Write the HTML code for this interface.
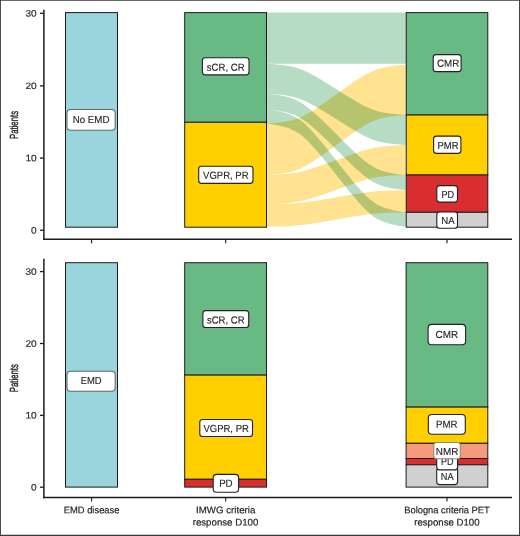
<!DOCTYPE html>
<html lang="en"><head><meta charset="utf-8"><title>Response flow by EMD status</title>
<style>
html,body{margin:0;padding:0;background:#fff;}
body{width:520px;height:536px;overflow:hidden;font-family:"Liberation Sans", Arial, Helvetica, sans-serif;}
svg{display:block;}
text{font-family:"Liberation Sans", Arial, Helvetica, sans-serif;text-rendering:geometricPrecision;stroke:#222;stroke-width:0.1px;}
</style></head>
<body>
<svg width="520" height="536" viewBox="0 0 520 536" font-family='"Liberation Sans", Arial, Helvetica, sans-serif'>
<rect x="0" y="0" width="520" height="536" fill="#fff"/>
<g id="flows" style="isolation:isolate">
<path d="M267.00,123.60 L267.07,123.60 L267.51,123.57 L268.60,123.50 L270.45,123.36 L273.02,123.13 L276.14,122.82 L279.59,122.41 L283.14,121.91 L286.63,121.33 L289.95,120.65 L293.10,119.87 L296.08,118.98 L298.94,117.95 L301.77,116.76 L304.61,115.38 L307.54,113.80 L310.60,112.01 L313.81,110.01 L317.20,107.79 L320.78,105.37 L324.53,102.76 L328.43,100.00 L332.44,97.13 L336.50,94.20 L340.56,91.27 L344.57,88.40 L348.47,85.64 L352.22,83.03 L355.80,80.61 L359.19,78.39 L362.40,76.39 L365.46,74.60 L368.39,73.02 L371.23,71.64 L374.06,70.45 L376.92,69.42 L379.90,68.53 L383.05,67.75 L386.37,67.07 L389.86,66.49 L393.41,65.99 L396.86,65.58 L399.98,65.27 L402.55,65.04 L404.40,64.90 L405.49,64.83 L405.93,64.80 L406.00,64.80 L406.00,115.00 L405.93,115.00 L405.49,115.03 L404.40,115.10 L402.55,115.25 L399.98,115.48 L396.86,115.80 L393.41,116.21 L389.86,116.72 L386.37,117.32 L383.05,118.01 L379.90,118.80 L376.92,119.71 L374.06,120.76 L371.23,121.97 L368.39,123.37 L365.46,124.98 L362.40,126.81 L359.19,128.85 L355.80,131.10 L352.22,133.57 L348.47,136.23 L344.57,139.05 L340.56,141.97 L336.50,144.95 L332.44,147.93 L328.43,150.85 L324.53,153.67 L320.78,156.33 L317.20,158.80 L313.81,161.05 L310.60,163.09 L307.54,164.92 L304.61,166.53 L301.77,167.93 L298.94,169.14 L296.08,170.19 L293.10,171.10 L289.95,171.89 L286.63,172.58 L283.14,173.18 L279.59,173.69 L276.14,174.10 L273.02,174.42 L270.45,174.65 L268.60,174.80 L267.51,174.87 L267.07,174.90 L267.00,174.90Z" fill="#ffe391" style="mix-blend-mode:multiply"/>
<path d="M267.00,174.90 L267.07,174.90 L267.51,174.88 L268.60,174.85 L270.45,174.78 L273.02,174.66 L276.14,174.50 L279.59,174.29 L283.14,174.04 L286.63,173.74 L289.95,173.40 L293.10,173.00 L296.08,172.55 L298.94,172.03 L301.77,171.42 L304.61,170.72 L307.54,169.92 L310.60,169.01 L313.81,167.99 L317.20,166.86 L320.78,165.63 L324.53,164.30 L328.43,162.90 L332.44,161.44 L336.50,159.95 L340.56,158.46 L344.57,157.00 L348.47,155.60 L352.22,154.27 L355.80,153.04 L359.19,151.91 L362.40,150.89 L365.46,149.98 L368.39,149.18 L371.23,148.48 L374.06,147.87 L376.92,147.35 L379.90,146.90 L383.05,146.50 L386.37,146.16 L389.86,145.86 L393.41,145.61 L396.86,145.40 L399.98,145.24 L402.55,145.12 L404.40,145.05 L405.49,145.02 L405.93,145.00 L406.00,145.00 L406.00,174.90 L405.93,174.90 L405.49,174.91 L404.40,174.95 L402.55,175.02 L399.98,175.13 L396.86,175.29 L393.41,175.50 L389.86,175.74 L386.37,176.04 L383.05,176.38 L379.90,176.77 L376.92,177.21 L374.06,177.73 L371.23,178.32 L368.39,179.01 L365.46,179.80 L362.40,180.69 L359.19,181.70 L355.80,182.80 L352.22,184.02 L348.47,185.32 L344.57,186.70 L340.56,188.14 L336.50,189.60 L332.44,191.06 L328.43,192.50 L324.53,193.88 L320.78,195.18 L317.20,196.40 L313.81,197.50 L310.60,198.51 L307.54,199.40 L304.61,200.19 L301.77,200.88 L298.94,201.47 L296.08,201.99 L293.10,202.43 L289.95,202.82 L286.63,203.16 L283.14,203.46 L279.59,203.70 L276.14,203.91 L273.02,204.07 L270.45,204.18 L268.60,204.25 L267.51,204.29 L267.07,204.30 L267.00,204.30Z" fill="#ffe391" style="mix-blend-mode:multiply"/>
<path d="M267.00,204.30 L267.07,204.30 L267.51,204.29 L268.60,204.28 L270.45,204.24 L273.02,204.19 L276.14,204.11 L279.59,204.01 L283.14,203.90 L286.63,203.75 L289.95,203.59 L293.10,203.41 L296.08,203.19 L298.94,202.94 L301.77,202.66 L304.61,202.33 L307.54,201.95 L310.60,201.52 L313.81,201.04 L317.20,200.51 L320.78,199.93 L324.53,199.30 L328.43,198.64 L332.44,197.95 L336.50,197.25 L340.56,196.55 L344.57,195.86 L348.47,195.20 L352.22,194.57 L355.80,193.99 L359.19,193.46 L362.40,192.98 L365.46,192.55 L368.39,192.17 L371.23,191.84 L374.06,191.56 L376.92,191.31 L379.90,191.09 L383.05,190.91 L386.37,190.75 L389.86,190.60 L393.41,190.49 L396.86,190.39 L399.98,190.31 L402.55,190.26 L404.40,190.22 L405.49,190.21 L405.93,190.20 L406.00,190.20 L406.00,212.30 L405.93,212.30 L405.49,212.31 L404.40,212.33 L402.55,212.36 L399.98,212.41 L396.86,212.49 L393.41,212.59 L389.86,212.71 L386.37,212.86 L383.05,213.02 L379.90,213.21 L376.92,213.43 L374.06,213.68 L371.23,213.98 L368.39,214.31 L365.46,214.70 L362.40,215.14 L359.19,215.63 L355.80,216.17 L352.22,216.77 L348.47,217.40 L344.57,218.08 L340.56,218.78 L336.50,219.50 L332.44,220.22 L328.43,220.92 L324.53,221.60 L320.78,222.23 L317.20,222.83 L313.81,223.37 L310.60,223.86 L307.54,224.30 L304.61,224.69 L301.77,225.02 L298.94,225.32 L296.08,225.57 L293.10,225.79 L289.95,225.98 L286.63,226.14 L283.14,226.29 L279.59,226.41 L276.14,226.51 L273.02,226.59 L270.45,226.64 L268.60,226.67 L267.51,226.69 L267.07,226.70 L267.00,226.70Z" fill="#ffe391" style="mix-blend-mode:multiply"/>
<path d="M267.00,12.60 L267.07,12.60 L267.51,12.60 L268.60,12.60 L270.45,12.60 L273.02,12.60 L276.14,12.60 L279.59,12.60 L283.14,12.60 L286.63,12.60 L289.95,12.60 L293.10,12.60 L296.08,12.60 L298.94,12.60 L301.77,12.60 L304.61,12.60 L307.54,12.60 L310.60,12.60 L313.81,12.60 L317.20,12.60 L320.78,12.60 L324.53,12.60 L328.43,12.60 L332.44,12.60 L336.50,12.60 L340.56,12.60 L344.57,12.60 L348.47,12.60 L352.22,12.60 L355.80,12.60 L359.19,12.60 L362.40,12.60 L365.46,12.60 L368.39,12.60 L371.23,12.60 L374.06,12.60 L376.92,12.60 L379.90,12.60 L383.05,12.60 L386.37,12.60 L389.86,12.60 L393.41,12.60 L396.86,12.60 L399.98,12.60 L402.55,12.60 L404.40,12.60 L405.49,12.60 L405.93,12.60 L406.00,12.60 L406.00,63.70 L405.93,63.70 L405.49,63.70 L404.40,63.70 L402.55,63.70 L399.98,63.70 L396.86,63.70 L393.41,63.70 L389.86,63.70 L386.37,63.70 L383.05,63.70 L379.90,63.70 L376.92,63.70 L374.06,63.70 L371.23,63.70 L368.39,63.70 L365.46,63.70 L362.40,63.70 L359.19,63.70 L355.80,63.70 L352.22,63.70 L348.47,63.70 L344.57,63.70 L340.56,63.70 L336.50,63.70 L332.44,63.70 L328.43,63.70 L324.53,63.70 L320.78,63.70 L317.20,63.70 L313.81,63.70 L310.60,63.70 L307.54,63.70 L304.61,63.70 L301.77,63.70 L298.94,63.70 L296.08,63.70 L293.10,63.70 L289.95,63.70 L286.63,63.70 L283.14,63.70 L279.59,63.70 L276.14,63.70 L273.02,63.70 L270.45,63.70 L268.60,63.70 L267.51,63.70 L267.07,63.70 L267.00,63.70Z" fill="#b6dcc3" style="mix-blend-mode:multiply"/>
<path d="M267.00,63.70 L267.07,63.70 L267.51,63.73 L268.60,63.79 L270.45,63.91 L273.02,64.11 L276.14,64.38 L279.59,64.74 L283.14,65.17 L286.63,65.68 L289.95,66.28 L293.10,66.95 L296.08,67.73 L298.94,68.63 L301.77,69.67 L304.61,70.87 L307.54,72.25 L310.60,73.81 L313.81,75.56 L317.20,77.49 L320.78,79.61 L324.53,81.88 L328.43,84.29 L332.44,86.80 L336.50,89.35 L340.56,91.90 L344.57,94.41 L348.47,96.82 L352.22,99.09 L355.80,101.21 L359.19,103.14 L362.40,104.89 L365.46,106.45 L368.39,107.83 L371.23,109.03 L374.06,110.07 L376.92,110.97 L379.90,111.75 L383.05,112.42 L386.37,113.02 L389.86,113.53 L393.41,113.96 L396.86,114.32 L399.98,114.59 L402.55,114.79 L404.40,114.91 L405.49,114.97 L405.93,115.00 L406.00,115.00 L406.00,145.00 L405.93,145.00 L405.49,144.97 L404.40,144.91 L402.55,144.79 L399.98,144.59 L396.86,144.32 L393.41,143.96 L389.86,143.52 L386.37,143.01 L383.05,142.42 L379.90,141.74 L376.92,140.96 L374.06,140.06 L371.23,139.02 L368.39,137.82 L365.46,136.43 L362.40,134.87 L359.19,133.12 L355.80,131.18 L352.22,129.06 L348.47,126.78 L344.57,124.37 L340.56,121.86 L336.50,119.30 L332.44,116.74 L328.43,114.23 L324.53,111.82 L320.78,109.54 L317.20,107.42 L313.81,105.48 L310.60,103.73 L307.54,102.17 L304.61,100.78 L301.77,99.58 L298.94,98.54 L296.08,97.64 L293.10,96.86 L289.95,96.18 L286.63,95.59 L283.14,95.08 L279.59,94.64 L276.14,94.28 L273.02,94.01 L270.45,93.81 L268.60,93.69 L267.51,93.63 L267.07,93.60 L267.00,93.60Z" fill="#b6dcc3" style="mix-blend-mode:multiply"/>
<path d="M267.00,93.60 L267.07,93.61 L267.51,93.64 L268.60,93.74 L270.45,93.94 L273.02,94.25 L276.14,94.68 L279.59,95.25 L283.14,95.94 L286.63,96.75 L289.95,97.69 L293.10,98.77 L296.08,100.01 L298.94,101.43 L301.77,103.08 L304.61,104.99 L307.54,107.18 L310.60,109.66 L313.81,112.44 L317.20,115.51 L320.78,118.87 L324.53,122.49 L328.43,126.32 L332.44,130.29 L336.50,134.35 L340.56,138.41 L344.57,142.38 L348.47,146.21 L352.22,149.83 L355.80,153.19 L359.19,156.26 L362.40,159.04 L365.46,161.52 L368.39,163.71 L371.23,165.62 L374.06,167.27 L376.92,168.69 L379.90,169.93 L383.05,171.01 L386.37,171.95 L389.86,172.76 L393.41,173.45 L396.86,174.02 L399.98,174.45 L402.55,174.76 L404.40,174.96 L405.49,175.06 L405.93,175.09 L406.00,175.10 L406.00,190.20 L405.93,190.19 L405.49,190.16 L404.40,190.06 L402.55,189.87 L399.98,189.56 L396.86,189.12 L393.41,188.56 L389.86,187.88 L386.37,187.07 L383.05,186.14 L379.90,185.07 L376.92,183.85 L374.06,182.43 L371.23,180.80 L368.39,178.91 L365.46,176.73 L362.40,174.28 L359.19,171.52 L355.80,168.48 L352.22,165.15 L348.47,161.56 L344.57,157.77 L340.56,153.82 L336.50,149.80 L332.44,145.78 L328.43,141.83 L324.53,138.04 L320.78,134.45 L317.20,131.12 L313.81,128.08 L310.60,125.32 L307.54,122.87 L304.61,120.69 L301.77,118.80 L298.94,117.17 L296.08,115.75 L293.10,114.53 L289.95,113.46 L286.63,112.53 L283.14,111.72 L279.59,111.04 L276.14,110.48 L273.02,110.04 L270.45,109.73 L268.60,109.54 L267.51,109.44 L267.07,109.41 L267.00,109.40Z" fill="#b6dcc3" style="mix-blend-mode:multiply"/>
<path d="M267.00,109.40 L267.07,109.41 L267.51,109.45 L268.60,109.58 L270.45,109.82 L273.02,110.22 L276.14,110.77 L279.59,111.48 L283.14,112.35 L286.63,113.38 L289.95,114.57 L293.10,115.93 L296.08,117.49 L298.94,119.29 L301.77,121.37 L304.61,123.78 L307.54,126.55 L310.60,129.68 L313.81,133.18 L317.20,137.07 L320.78,141.31 L324.53,145.87 L328.43,150.71 L332.44,155.73 L336.50,160.85 L340.56,165.97 L344.57,170.99 L348.47,175.83 L352.22,180.39 L355.80,184.63 L359.19,188.52 L362.40,192.02 L365.46,195.15 L368.39,197.92 L371.23,200.33 L374.06,202.41 L376.92,204.21 L379.90,205.77 L383.05,207.13 L386.37,208.32 L389.86,209.35 L393.41,210.22 L396.86,210.93 L399.98,211.48 L402.55,211.88 L404.40,212.12 L405.49,212.25 L405.93,212.29 L406.00,212.30 L406.00,226.80 L405.93,226.79 L405.49,226.75 L404.40,226.62 L402.55,226.37 L399.98,225.98 L396.86,225.43 L393.41,224.71 L389.86,223.84 L386.37,222.81 L383.05,221.62 L379.90,220.25 L376.92,218.69 L374.06,216.88 L371.23,214.79 L368.39,212.37 L365.46,209.60 L362.40,206.46 L359.19,202.95 L355.80,199.05 L352.22,194.80 L348.47,190.22 L344.57,185.37 L340.56,180.34 L336.50,175.20 L332.44,170.06 L328.43,165.03 L324.53,160.18 L320.78,155.60 L317.20,151.35 L313.81,147.45 L310.60,143.94 L307.54,140.80 L304.61,138.03 L301.77,135.61 L298.94,133.52 L296.08,131.71 L293.10,130.15 L289.95,128.78 L286.63,127.59 L283.14,126.56 L279.59,125.69 L276.14,124.97 L273.02,124.42 L270.45,124.03 L268.60,123.78 L267.51,123.65 L267.07,123.61 L267.00,123.60Z" fill="#b6dcc3" style="mix-blend-mode:multiply"/>
</g>
<rect x="65.50" y="12.60" width="52.00" height="214.60" fill="#9ad4dd" stroke="#1c1c1c" stroke-width="1"/>
<rect x="184.70" y="12.60" width="81.80" height="109.70" fill="#69b985" stroke="#1c1c1c" stroke-width="1"/>
<rect x="184.70" y="122.30" width="81.80" height="104.90" fill="#ffcf00" stroke="#1c1c1c" stroke-width="1"/>
<rect x="406.25" y="12.60" width="81.55" height="102.40" fill="#69b985" stroke="#1c1c1c" stroke-width="1"/>
<rect x="406.25" y="115.00" width="81.55" height="60.00" fill="#ffcf00" stroke="#1c1c1c" stroke-width="1"/>
<rect x="406.25" y="175.00" width="81.55" height="37.30" fill="#d92e30" stroke="#1c1c1c" stroke-width="1"/>
<rect x="406.25" y="212.30" width="81.55" height="14.90" fill="#d0d0d0" stroke="#1c1c1c" stroke-width="1"/>
<rect x="65.50" y="262.70" width="52.00" height="224.40" fill="#9ad4dd" stroke="#1c1c1c" stroke-width="1"/>
<rect x="184.70" y="262.70" width="81.80" height="112.40" fill="#69b985" stroke="#1c1c1c" stroke-width="1"/>
<rect x="184.70" y="375.10" width="81.80" height="104.20" fill="#ffcf00" stroke="#1c1c1c" stroke-width="1"/>
<rect x="184.70" y="479.30" width="81.80" height="7.80" fill="#d92e30" stroke="#1c1c1c" stroke-width="1"/>
<rect x="406.10" y="262.70" width="81.70" height="144.40" fill="#69b985" stroke="#1c1c1c" stroke-width="1"/>
<rect x="406.10" y="407.10" width="81.70" height="36.20" fill="#ffcf00" stroke="#1c1c1c" stroke-width="1"/>
<rect x="406.10" y="443.30" width="81.70" height="15.20" fill="#f49b7d" stroke="#1c1c1c" stroke-width="1"/>
<rect x="406.10" y="458.50" width="81.70" height="6.30" fill="#d92e30" stroke="#1c1c1c" stroke-width="1"/>
<rect x="406.10" y="464.80" width="81.70" height="22.30" fill="#d0d0d0" stroke="#1c1c1c" stroke-width="1"/>
<line x1="43.90" y1="9.75" x2="43.90" y2="240.00" stroke="#1c1c1c" stroke-width="1.5"/>
<line x1="43.15" y1="239.25" x2="512.00" y2="239.25" stroke="#1c1c1c" stroke-width="1.5"/>
<line x1="40.00" y1="13.30" x2="43.90" y2="13.30" stroke="#1c1c1c" stroke-width="1.3"/>
<text x="36.70" y="16.50" transform="rotate(0.03 36.70 16.50)" font-size="9.3" text-anchor="end" fill="#222" textLength="11.30" lengthAdjust="spacingAndGlyphs" style="stroke-width:0.12px">30</text>
<line x1="40.00" y1="85.90" x2="43.90" y2="85.90" stroke="#1c1c1c" stroke-width="1.3"/>
<text x="36.70" y="89.10" transform="rotate(0.03 36.70 89.10)" font-size="9.3" text-anchor="end" fill="#222" textLength="11.30" lengthAdjust="spacingAndGlyphs" style="stroke-width:0.12px">20</text>
<line x1="40.00" y1="158.10" x2="43.90" y2="158.10" stroke="#1c1c1c" stroke-width="1.3"/>
<text x="36.70" y="161.30" transform="rotate(0.03 36.70 161.30)" font-size="9.3" text-anchor="end" fill="#222" textLength="11.30" lengthAdjust="spacingAndGlyphs" style="stroke-width:0.12px">10</text>
<line x1="40.00" y1="230.30" x2="43.90" y2="230.30" stroke="#1c1c1c" stroke-width="1.3"/>
<text x="36.50" y="233.50" transform="rotate(0.03 36.50 233.50)" font-size="9.3" text-anchor="end" fill="#222" textLength="5.60" lengthAdjust="spacingAndGlyphs" style="stroke-width:0.12px">0</text>
<line x1="91.60" y1="239.25" x2="91.60" y2="243.20" stroke="#1c1c1c" stroke-width="1.1"/>
<line x1="225.70" y1="239.25" x2="225.70" y2="243.20" stroke="#1c1c1c" stroke-width="1.1"/>
<line x1="447.00" y1="239.25" x2="447.00" y2="243.20" stroke="#1c1c1c" stroke-width="1.1"/>
<line x1="43.90" y1="258.75" x2="43.90" y2="498.20" stroke="#1c1c1c" stroke-width="1.5"/>
<line x1="43.15" y1="497.50" x2="512.00" y2="497.50" stroke="#1c1c1c" stroke-width="1.5"/>
<line x1="40.00" y1="271.60" x2="43.90" y2="271.60" stroke="#1c1c1c" stroke-width="1.3"/>
<text x="36.70" y="274.80" transform="rotate(0.03 36.70 274.80)" font-size="9.3" text-anchor="end" fill="#222" textLength="11.30" lengthAdjust="spacingAndGlyphs" style="stroke-width:0.12px">30</text>
<line x1="40.00" y1="343.50" x2="43.90" y2="343.50" stroke="#1c1c1c" stroke-width="1.3"/>
<text x="36.70" y="346.70" transform="rotate(0.03 36.70 346.70)" font-size="9.3" text-anchor="end" fill="#222" textLength="11.30" lengthAdjust="spacingAndGlyphs" style="stroke-width:0.12px">20</text>
<line x1="40.00" y1="415.40" x2="43.90" y2="415.40" stroke="#1c1c1c" stroke-width="1.3"/>
<text x="36.70" y="418.60" transform="rotate(0.03 36.70 418.60)" font-size="9.3" text-anchor="end" fill="#222" textLength="11.30" lengthAdjust="spacingAndGlyphs" style="stroke-width:0.12px">10</text>
<line x1="40.00" y1="487.20" x2="43.90" y2="487.20" stroke="#1c1c1c" stroke-width="1.3"/>
<text x="36.50" y="490.40" transform="rotate(0.03 36.50 490.40)" font-size="9.3" text-anchor="end" fill="#222" textLength="5.60" lengthAdjust="spacingAndGlyphs" style="stroke-width:0.12px">0</text>
<line x1="91.60" y1="497.50" x2="91.60" y2="501.40" stroke="#1c1c1c" stroke-width="1.1"/>
<line x1="225.70" y1="497.50" x2="225.70" y2="501.40" stroke="#1c1c1c" stroke-width="1.1"/>
<line x1="447.00" y1="497.50" x2="447.00" y2="501.40" stroke="#1c1c1c" stroke-width="1.1"/>
<text transform="translate(17.9,125.0) rotate(-90) scale(0.66,1)" font-size="11.8" text-anchor="middle" fill="#222" style="stroke-width:0.4px">Patients</text>
<text transform="translate(17.9,378.2) rotate(-90) scale(0.66,1)" font-size="11.8" text-anchor="middle" fill="#222" style="stroke-width:0.4px">Patients</text>
<text x="91.60" y="513.30" transform="rotate(0.03 91.60 513.30)" font-size="9.6" text-anchor="middle" fill="#222" textLength="55.80" lengthAdjust="spacingAndGlyphs" style="stroke-width:0.18px">EMD disease</text>
<text x="225.70" y="513.30" transform="rotate(0.03 225.70 513.30)" font-size="9.6" text-anchor="middle" fill="#222" textLength="59.30" lengthAdjust="spacingAndGlyphs" style="stroke-width:0.18px">IMWG criteria</text>
<text x="225.50" y="525.40" transform="rotate(0.03 225.50 525.40)" font-size="9.6" text-anchor="middle" fill="#222" textLength="65.60" lengthAdjust="spacingAndGlyphs" style="stroke-width:0.18px">response D100</text>
<text x="447.00" y="513.30" transform="rotate(0.03 447.00 513.30)" font-size="9.6" text-anchor="middle" fill="#222" textLength="85.50" lengthAdjust="spacingAndGlyphs" style="stroke-width:0.18px">Bologna criteria PET</text>
<text x="446.90" y="525.40" transform="rotate(0.03 446.90 525.40)" font-size="9.6" text-anchor="middle" fill="#222" textLength="65.40" lengthAdjust="spacingAndGlyphs" style="stroke-width:0.18px">response D100</text>
<rect x="67.00" y="109.50" width="48.20" height="20.80" rx="3.5" ry="3.5" fill="#fff" stroke="#5a6a6e" stroke-width="1.1"/>
<text x="91.10" y="122.90" transform="rotate(0.03 91.10 122.90)" font-size="10.2" text-anchor="middle" fill="#222" textLength="36.80" lengthAdjust="spacingAndGlyphs" style="stroke-width:0.12px">No EMD</text>
<rect x="202.40" y="57.80" width="46.60" height="17.10" rx="2.8" ry="2.8" fill="#fff" stroke="#222" stroke-width="1.1"/>
<text x="225.70" y="70.70" transform="rotate(0.03 225.70 70.70)" font-size="10.2" text-anchor="middle" fill="#222" textLength="37.70" lengthAdjust="spacingAndGlyphs" style="stroke-width:0.12px">sCR, CR</text>
<rect x="198.70" y="166.20" width="54.30" height="17.20" rx="2.8" ry="2.8" fill="#fff" stroke="#222" stroke-width="1.1"/>
<text x="225.85" y="178.75" transform="rotate(0.03 225.85 178.75)" font-size="10.2" text-anchor="middle" fill="#222" textLength="45.50" lengthAdjust="spacingAndGlyphs" style="stroke-width:0.12px">VGPR, PR</text>
<rect x="433.20" y="54.60" width="27.90" height="17.00" rx="2.8" ry="2.8" fill="#fff" stroke="#222" stroke-width="1.1"/>
<text x="448.15" y="66.70" transform="rotate(0.03 448.15 66.70)" font-size="10.2" text-anchor="middle" fill="#222" textLength="22.30" lengthAdjust="spacingAndGlyphs" style="stroke-width:0.12px">CMR</text>
<rect x="433.60" y="136.10" width="27.30" height="17.30" rx="2.8" ry="2.8" fill="#fff" stroke="#222" stroke-width="1.1"/>
<text x="448.05" y="148.85" transform="rotate(0.03 448.05 148.85)" font-size="10.2" text-anchor="middle" fill="#222" textLength="21.00" lengthAdjust="spacingAndGlyphs" style="stroke-width:0.12px">PMR</text>
<rect x="436.80" y="185.60" width="20.70" height="16.50" rx="2.8" ry="2.8" fill="#fff" stroke="#222" stroke-width="1.1"/>
<text x="447.85" y="197.55" transform="rotate(0.03 447.85 197.55)" font-size="10.2" text-anchor="middle" fill="#222" textLength="12.60" lengthAdjust="spacingAndGlyphs" style="stroke-width:0.12px">PD</text>
<rect x="436.80" y="212.00" width="20.70" height="16.20" rx="2.8" ry="2.8" fill="#fff" stroke="#222" stroke-width="1.1"/>
<text x="447.95" y="223.95" transform="rotate(0.03 447.95 223.95)" font-size="10.2" text-anchor="middle" fill="#222" textLength="13.40" lengthAdjust="spacingAndGlyphs" style="stroke-width:0.12px">NA</text>
<rect x="67.00" y="371.20" width="48.20" height="20.10" rx="3.5" ry="3.5" fill="#fff" stroke="#5a6a6e" stroke-width="1.1"/>
<text x="91.10" y="384.20" transform="rotate(0.03 91.10 384.20)" font-size="10.2" text-anchor="middle" fill="#222" textLength="20.90" lengthAdjust="spacingAndGlyphs" style="stroke-width:0.12px">EMD</text>
<rect x="202.90" y="310.60" width="45.80" height="16.90" rx="2.8" ry="2.8" fill="#fff" stroke="#222" stroke-width="1.1"/>
<text x="225.80" y="323.40" transform="rotate(0.03 225.80 323.40)" font-size="10.2" text-anchor="middle" fill="#222" textLength="37.70" lengthAdjust="spacingAndGlyphs" style="stroke-width:0.12px">sCR, CR</text>
<rect x="199.80" y="419.50" width="52.70" height="17.00" rx="2.8" ry="2.8" fill="#fff" stroke="#222" stroke-width="1.1"/>
<text x="226.15" y="431.90" transform="rotate(0.03 226.15 431.90)" font-size="10.2" text-anchor="middle" fill="#222" textLength="45.50" lengthAdjust="spacingAndGlyphs" style="stroke-width:0.12px">VGPR, PR</text>
<rect x="213.20" y="474.40" width="25.40" height="17.90" rx="3.2" ry="3.2" fill="#fff" stroke="#222" stroke-width="1.1"/>
<text x="225.90" y="486.80" transform="rotate(0.03 225.90 486.80)" font-size="10.2" text-anchor="middle" fill="#222" textLength="13.50" lengthAdjust="spacingAndGlyphs" style="stroke-width:0.12px">PD</text>
<rect x="428.10" y="324.40" width="37.50" height="20.35" rx="3.5" ry="3.5" fill="#fff" stroke="#222" stroke-width="1.1"/>
<text x="446.85" y="337.95" transform="rotate(0.03 446.85 337.95)" font-size="10.2" text-anchor="middle" fill="#222" textLength="22.50" lengthAdjust="spacingAndGlyphs" style="stroke-width:0.12px">CMR</text>
<rect x="428.30" y="414.50" width="37.00" height="19.70" rx="3.5" ry="3.5" fill="#fff" stroke="#222" stroke-width="1.1"/>
<text x="446.80" y="427.70" transform="rotate(0.03 446.80 427.70)" font-size="10.2" text-anchor="middle" fill="#222" textLength="21.50" lengthAdjust="spacingAndGlyphs" style="stroke-width:0.12px">PMR</text>
<rect x="436.70" y="467.90" width="20.90" height="16.70" rx="2.8" ry="2.8" fill="#fff" stroke="#222" stroke-width="1.1"/>
<text x="447.15" y="480.20" transform="rotate(0.03 447.15 480.20)" font-size="10.2" text-anchor="middle" fill="#222" textLength="12.80" lengthAdjust="spacingAndGlyphs" style="stroke-width:0.12px">NA</text>
<rect x="436.70" y="453.40" width="20.90" height="16.50" rx="2.8" ry="2.8" fill="#fff" stroke="#222" stroke-width="1.1"/>
<text x="447.15" y="465.40" transform="rotate(0.03 447.15 465.40)" font-size="10.2" text-anchor="middle" fill="#222" textLength="12.50" lengthAdjust="spacingAndGlyphs" style="stroke-width:0.12px">PD</text>
<rect x="433.80" y="442.50" width="26.50" height="16.20" rx="2.8" ry="2.8" fill="#fff" stroke="#8a8a8a" stroke-width="1.1"/>
<text x="447.05" y="454.90" transform="rotate(0.03 447.05 454.90)" font-size="10.2" text-anchor="middle" fill="#222" textLength="22.50" lengthAdjust="spacingAndGlyphs" style="stroke-width:0.12px">NMR</text>
<path d="M0,0H520V536H0Z M0.9,0.85V534.7H519.05V0.85Z" fill="#3a3a3a" fill-rule="evenodd"/>
</svg>
</body></html>
